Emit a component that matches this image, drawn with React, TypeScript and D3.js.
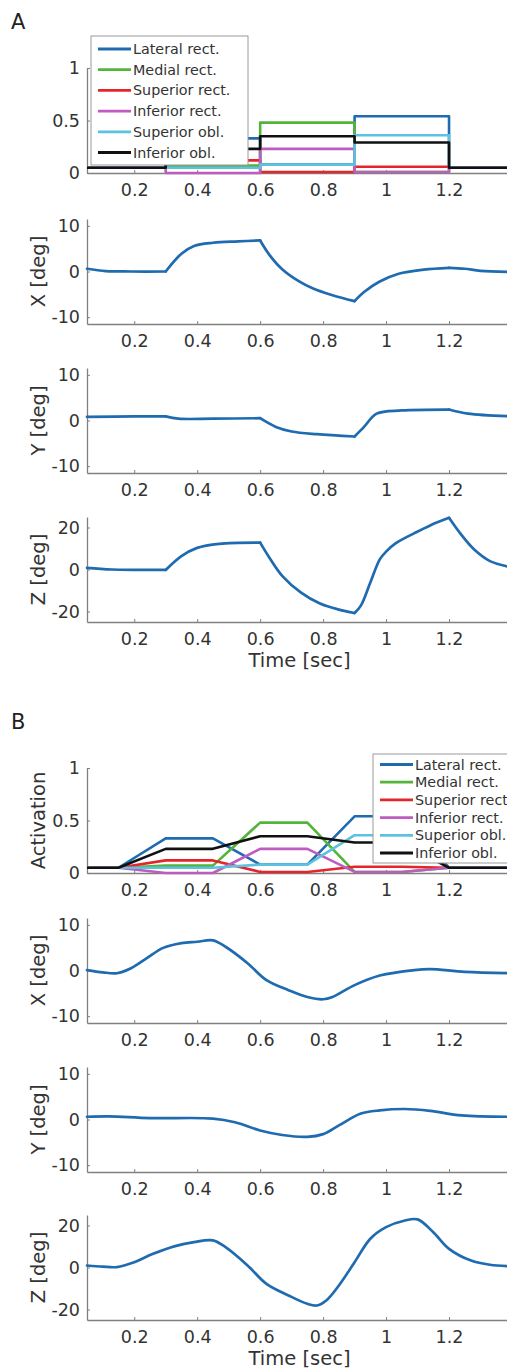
import React, { useRef, useEffect } from 'react';
import * as d3 from 'd3';

// ---- data ----
const muscleNames = ['Lateral rect.', 'Medial rect.', 'Superior rect.', 'Inferior rect.', 'Superior obl.', 'Inferior obl.'];
// legend B is cut by the page edge, so its third entry reads without the dot
const muscleNamesB = ['Lateral rect.', 'Medial rect.', 'Superior rect', 'Inferior rect.', 'Superior obl.', 'Inferior obl.'];
const muscleColors = ['#1f6bb0', '#52b53a', '#e4262b', '#bf5cbf', '#5cc2df', '#111111'];

// activation level per phase: before 0.3, 0.3-0.6, 0.6-0.9, 0.9-1.2, after 1.2
const lateralAct = [0.05, 0.33, 0.08, 0.54, 0.05];
const medialAct = [0.05, 0.07, 0.48, 0.01, 0.05];
const supRectAct = [0.05, 0.12, 0.01, 0.06, 0.05];
const infRectAct = [0.05, 0.0, 0.23, 0.01, 0.05];
const supOblAct = [0.05, 0.05, 0.08, 0.36, 0.05];
const infOblAct = [0.05, 0.23, 0.35, 0.29, 0.05];
const activations = [lateralAct, medialAct, supRectAct, infRectAct, supOblAct, infOblAct];

// A: step changes, B: linear ramps between the same levels
const stepTimes = [0.05, 0.3, 0.6, 0.9, 1.2, 1.4];
const rampTimes = [0.05, 0.15, 0.3, 0.45, 0.6, 0.75, 0.9, 1.05, 1.2, 1.4];

// A: eye position (kinks where the activation steps)
const stepKinks = [0.3, 0.6, 0.9, 1.2];
const aXTime = [0.05, 0.11, 0.19, 0.3, 0.35, 0.39, 0.45, 0.53, 0.6, 0.63, 0.67, 0.72, 0.77, 0.83, 0.9, 0.93, 0.98, 1.04, 1.12, 1.2, 1.25, 1.3, 1.4];
const aXVal = [0.6, 0.1, 0, 0, 3.9, 5.6, 6.3, 6.6, 6.8, 3.6, 0.5, -2.0, -3.8, -5.2, -6.5, -4.5, -2.2, -0.5, 0.4, 0.8, 0.6, 0.15, -0.1];
const aYTime = [0.05, 0.2, 0.3, 0.34, 0.45, 0.6, 0.65, 0.7, 0.78, 0.9, 0.93, 0.97, 1.05, 1.2, 1.26, 1.4];
const aYVal = [0.8, 0.9, 0.9, 0.4, 0.4, 0.5, -1.4, -2.4, -3.0, -3.5, -1.4, 1.5, 2.2, 2.4, 1.5, 0.9];
const aZTime = [0.05, 0.13, 0.3, 0.35, 0.4, 0.47, 0.6, 0.63, 0.67, 0.73, 0.79, 0.85, 0.9, 0.92, 0.95, 0.98, 1.0, 1.03, 1.09, 1.14, 1.2, 1.235, 1.28, 1.33, 1.4];
const aZVal = [0.8, 0, -0.2, 6.4, 10.3, 12.2, 12.8, 5.5, -3.0, -11.0, -16.2, -19.1, -20.7, -17.2, -6.2, 4.8, 8.5, 12.4, 17.3, 21.0, 24.6, 17.3, 9.5, 4.0, 1.0];

// B: eye position (smooth)
const bXTime = [0.05, 0.1, 0.145, 0.19, 0.24, 0.29, 0.35, 0.4, 0.45, 0.49, 0.56, 0.62, 0.69, 0.75, 0.8, 0.83, 0.9, 0.98, 1.09, 1.14, 1.25, 1.4];
const bXVal = [0.1, -0.4, -0.6, 0.5, 2.7, 4.9, 6.0, 6.3, 6.6, 5.2, 1.6, -2.1, -4.3, -5.8, -6.3, -5.8, -3.2, -1.1, 0.1, 0.3, -0.3, -0.6];
const bYTime = [0.05, 0.12, 0.25, 0.45, 0.52, 0.6, 0.67, 0.75, 0.8, 0.85, 0.92, 0.98, 1.06, 1.14, 1.24, 1.4];
const bYVal = [0.6, 0.7, 0.3, 0.2, -0.6, -2.4, -3.4, -3.8, -3.2, -1.3, 1.3, 2.0, 2.3, 1.9, 0.9, 0.6];
const bZTime = [0.05, 0.1, 0.145, 0.2, 0.26, 0.33, 0.39, 0.45, 0.49, 0.56, 0.62, 0.69, 0.75, 0.78, 0.81, 0.85, 0.9, 0.95, 1.0, 1.06, 1.1, 1.15, 1.2, 1.27, 1.33, 1.4];
const bZVal = [0.95, 0.4, 0.2, 2.5, 6.5, 10.2, 12.1, 12.9, 9.7, 1.0, -7.8, -13.3, -17.3, -18.1, -15.7, -8.6, 2.5, 13.7, 19.2, 22.4, 22.9, 16.8, 8.9, 3.3, 1.3, 0.6];

const timeTicks = [0.2, 0.4, 0.6, 0.8, 1, 1.2];
const actTicks = [0, 0.5, 1];
const degTicks = [-10, 0, 10];
const zTicks = [-20, 0, 20];

const FONT = 'DejaVu Sans, Verdana, sans-serif';
const TEXT_COLOR = '#333333';
const AXIS_COLOR = '#808080';
const CURVE_COLOR = '#1f6bb0';

const App = () => {
  const svgRef = useRef(null);

  useEffect(() => {
    const svg = d3.select(svgRef.current);
    svg.selectAll('*').remove();

    const x = d3.scaleLinear().domain([0.05, 1.4]).range([87, 512]);
    const plotH = 105;

    const drawAxes = (bottom, yDomain, yTicks, yLabel, timeLabel) => {
      const y = d3.scaleLinear().domain(yDomain).range([bottom, bottom - plotH]);
      const g = svg.append('g').attr('color', AXIS_COLOR);

      const xa = g.append('g')
        .attr('transform', `translate(0,${bottom})`)
        .call(d3.axisBottom(x).tickValues(timeTicks).tickSizeInner(-3).tickSizeOuter(0)
          .tickPadding(11).tickFormat(d => String(d)));
      const ya = g.append('g')
        .attr('transform', `translate(${x.range()[0]},0)`)
        .call(d3.axisLeft(y).tickValues(yTicks).tickSizeInner(-3).tickSizeOuter(0)
          .tickPadding(7).tickFormat(d => String(d)));

      [xa, ya].forEach(a => {
        a.select('.domain').attr('stroke-width', 1.3);
        a.selectAll('line').attr('stroke-width', 1);
        a.selectAll('text')
          .attr('fill', TEXT_COLOR)
          .attr('font-size', 17.5)
          .attr('font-family', FONT);
      });

      if (yLabel) {
        svg.append('text')
          .attr('transform', `translate(45,${bottom - plotH / 2}) rotate(-90)`)
          .attr('text-anchor', 'middle')
          .attr('font-family', FONT)
          .attr('font-size', 19.5)
          .attr('fill', TEXT_COLOR)
          .text(yLabel);
      }
      if (timeLabel) {
        svg.append('text')
          .attr('x', (x.range()[0] + x.range()[1]) / 2)
          .attr('y', bottom + 45)
          .attr('text-anchor', 'middle')
          .attr('font-family', FONT)
          .attr('font-size', 19.5)
          .attr('fill', TEXT_COLOR)
          .text('Time [sec]');
      }
      return y;
    };

    const drawActivation = (bottom, stepped, yLabel) => {
      const y = drawAxes(bottom, [0, 1], actTicks, yLabel, false);
      const line = d3.line()
        .x(d => x(d[0]))
        .y(d => y(d[1]))
        .curve(stepped ? d3.curveStepAfter : d3.curveLinear);

      activations.forEach((levels, i) => {
        const pts = stepped
          ? stepTimes.map((t, k) => [t, levels[Math.min(k, levels.length - 1)]])
          : rampTimes.map((t, k) => [t, levels[Math.floor(k / 2)]]);
        svg.append('path')
          .datum(pts)
          .attr('fill', 'none')
          .attr('stroke', muscleColors[i])
          .attr('stroke-width', 2.6)
          .attr('stroke-linejoin', 'round')
          .attr('d', line);
      });
    };

    const drawLegend = (names, bx, by, bw, bh, rowY, rowGap) => {
      const g = svg.append('g');
      g.append('rect')
        .attr('x', bx).attr('y', by).attr('width', bw).attr('height', bh)
        .attr('fill', '#ffffff').attr('stroke', '#9a9a9a').attr('stroke-width', 1);
      names.forEach((name, i) => {
        const yy = rowY + i * rowGap;
        g.append('line')
          .attr('x1', bx + 7).attr('x2', bx + 40)
          .attr('y1', yy).attr('y2', yy)
          .attr('stroke', muscleColors[i]).attr('stroke-width', 2.8);
        g.append('text')
          .attr('x', bx + 42).attr('y', yy).attr('dy', '0.35em')
          .attr('font-family', FONT).attr('font-size', 14.3)
          .attr('fill', TEXT_COLOR)
          .text(name);
      });
    };

    const drawCurve = (bottom, times, vals, yDomain, ticks, label, kinks, timeLabel) => {
      const y = drawAxes(bottom, yDomain, ticks, label, timeLabel);
      const pts = times.map((t, i) => [t, vals[i]]);
      // split at kinks so the corners stay sharp
      const segments = [];
      let cur = [];
      pts.forEach(p => {
        cur.push(p);
        if (kinks.includes(p[0])) {
          segments.push(cur);
          cur = [p];
        }
      });
      if (cur.length > 1) segments.push(cur);

      const line = d3.line()
        .x(d => x(d[0]))
        .y(d => y(d[1]))
        .curve(d3.curveCatmullRom.alpha(0.5));

      segments.forEach(seg => {
        svg.append('path')
          .datum(seg)
          .attr('fill', 'none')
          .attr('stroke', CURVE_COLOR)
          .attr('stroke-width', 2.7)
          .attr('stroke-linejoin', 'round')
          .attr('stroke-linecap', 'round')
          .attr('d', line);
      });
    };

    // panel letters
    [['A', 29], ['B', 729]].forEach(([txt, yy]) => {
      svg.append('text')
        .attr('x', 11).attr('y', yy)
        .attr('font-family', FONT).attr('font-size', 21)
        .attr('fill', '#222')
        .text(txt);
    });

    // ---- A ----
    drawActivation(173, true, null);
    drawLegend(muscleNames, 91, 36, 157, 129, 49, 20.7);
    drawCurve(324, aXTime, aXVal, [-11.5, 11.5], degTicks, 'X [deg]', stepKinks, false);
    drawCurve(473, aYTime, aYVal, [-11.5, 11.5], degTicks, 'Y [deg]', stepKinks, false);
    drawCurve(622, aZTime, aZVal, [-25, 25], zTicks, 'Z [deg]', stepKinks, true);

    // ---- B ----
    drawActivation(873, false, 'Activation');
    drawLegend(muscleNamesB, 373, 754, 160, 109, 764.5, 17.7);
    drawCurve(1023, bXTime, bXVal, [-11.5, 11.5], degTicks, 'X [deg]', [], false);
    drawCurve(1172, bYTime, bYVal, [-11.5, 11.5], degTicks, 'Y [deg]', [], false);
    drawCurve(1320, bZTime, bZVal, [-25, 25], zTicks, 'Z [deg]', [], true);
  }, []);

  return (
    <div style={{ position: 'absolute', left: 0, top: 0 }}>
      <svg ref={svgRef} width={507} height={1372} style={{ display: 'block', background: '#fff' }}></svg>
    </div>
  );
};

export default App;
